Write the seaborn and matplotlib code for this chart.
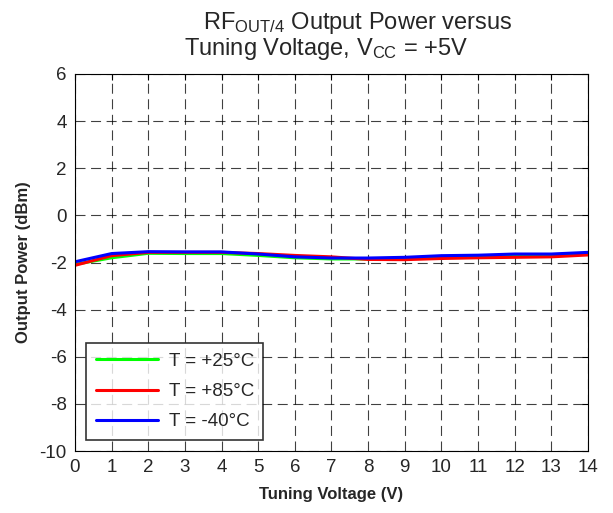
import numpy as np
import pandas as pd
import seaborn as sns
import matplotlib
matplotlib.use("Agg")
import matplotlib.pyplot as plt

voltage = [0, 1, 2, 3, 4, 5, 6, 7, 8, 9, 10, 11, 12, 13, 14]
p_25 = [-2.08, -1.80, -1.61, -1.62, -1.62, -1.70, -1.80, -1.85, -1.85, -1.84, -1.78, -1.76, -1.72, -1.68, -1.62]
p_85 = [-2.12, -1.71, -1.57, -1.57, -1.57, -1.62, -1.70, -1.76, -1.87, -1.88, -1.83, -1.80, -1.78, -1.76, -1.68]
p_m40 = [-1.97, -1.62, -1.54, -1.55, -1.55, -1.64, -1.76, -1.81, -1.81, -1.78, -1.71, -1.69, -1.64, -1.64, -1.57]
labels = ["T = +25°C", "T = +85°C", "T = -40°C"]
colors = ["#00ff00", "#ff0000", "#0000ff"]

df = pd.concat([
    pd.DataFrame({"V": voltage, "P": p, "T": lab})
    for p, lab in zip([p_25, p_85, p_m40], labels)
])

sns.set_style("white")
plt.rcParams['font.family'] = ['Liberation Sans', 'DejaVu Sans']
plt.rcParams['mathtext.fontset'] = 'custom'
plt.rcParams['mathtext.rm'] = 'Liberation Sans'
plt.rcParams['mathtext.it'] = 'Liberation Sans'
plt.rcParams['axes.unicode_minus'] = False

fig = plt.figure(figsize=(6.13, 5.13), dpi=100)
ax = fig.add_axes([75/613, 1-451/513, 513/613, 377/513])

sns.lineplot(data=df, x="V", y="P", hue="T", palette=dict(zip(labels, colors)),
             linewidth=2.2, ax=ax)

ax.set_xlim(0, 14)
ax.set_ylim(-10, 6)
ax.set_xticks(range(0, 15))
ax.set_yticks(range(-10, 7, 2))
ax.tick_params(direction='in', top=True, right=True, length=4, labelsize=13.5, color='black', pad=6)
ax.grid(True, color='black', linestyle=(0, (9, 5)), linewidth=0.8, alpha=0.75)
for s in ax.spines.values():
    s.set_color('black')
    s.set_linewidth(0.8)
ax.set_xlabel("Tuning Voltage (V)", fontsize=12, fontweight='bold', labelpad=8)
ax.set_ylabel("Output Power (dBm)", fontsize=12, fontweight='bold', labelpad=6)

leg = ax.legend(loc='lower left', fontsize=13.5, handlelength=3.3, frameon=True,
                fancybox=False, edgecolor='black', borderaxespad=0.6,
                labelspacing=0.7, handletextpad=0.6, borderpad=0.5)
leg.get_frame().set_linewidth(1.2)
leg.set_title(None)

fig.text(203/613, 1-29/513, r"RF$_{\mathrm{OUT/4}}$ Output Power versus", ha='left', fontsize=17)
fig.text(326/613, 1-55/513, r"Tuning Voltage, V$_{\mathrm{CC}}$ = +5V", ha='center', fontsize=17)

fig.savefig("out.png", dpi=100, facecolor='white')
